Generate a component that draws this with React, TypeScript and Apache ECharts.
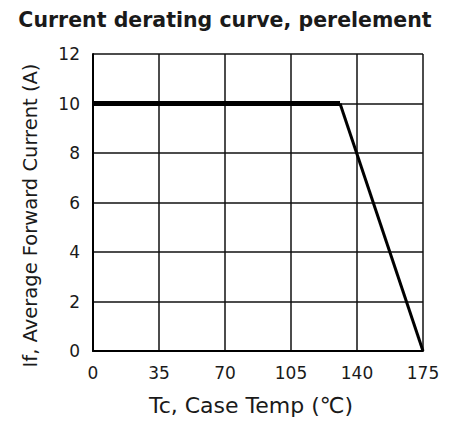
import React, { useEffect, useRef } from "react";
import * as echarts from "echarts";

const titleText = "Current derating curve, perelement";
const xAxisName = "Tc, Case Temp (℃)";
const yAxisName = "If, Average Forward Current (A)";
const xTicks = [0, 35, 70, 105, 140, 175];
const yTicks = [0, 2, 4, 6, 8, 10, 12];
const flatSegment: [number, number][] = [
  [0, 10],
  [131, 10],
];
const slopeSegment: [number, number][] = [
  [131, 10],
  [175, 0],
];

export default function App() {
  const ref = useRef<HTMLDivElement>(null);
  useEffect(() => {
    if (!ref.current) return;
    const chart = echarts.init(ref.current, undefined, { renderer: "svg" });
    const font = "DejaVu Sans";
    chart.setOption({
      animation: false,
      backgroundColor: "#ffffff",
      title: {
        text: titleText,
        left: "center",
        top: 4,
        textStyle: { fontFamily: font, fontWeight: "bold", fontSize: 20.5, color: "#1a1a1a" },
      },
      grid: { left: 93, right: 27, top: 54, bottom: 76 },
      xAxis: {
        type: "value",
        min: xTicks[0],
        max: xTicks[xTicks.length - 1],
        interval: 35,
        name: xAxisName,
        nameLocation: "middle",
        nameGap: 43,
        nameTextStyle: { fontFamily: font, fontSize: 22, color: "#1a1a1a", padding: [0, 14, 0, 0] },
        axisLine: { show: true, lineStyle: { color: "#000", width: 2 } },
        axisTick: { show: false },
        axisLabel: { margin: 13, fontFamily: font, fontSize: 17, color: "#1a1a1a" },
        splitLine: { show: true, lineStyle: { color: "#111", width: 1.5 } },
      },
      yAxis: {
        type: "value",
        min: yTicks[0],
        max: yTicks[yTicks.length - 1],
        interval: 2,
        name: yAxisName,
        nameLocation: "middle",
        nameRotate: 90,
        nameGap: 53,
        nameTextStyle: { fontFamily: font, fontSize: 19.5, color: "#1a1a1a", padding: [0, 26, 0, 0] },
        axisLine: { show: true, lineStyle: { color: "#000", width: 2 } },
        axisTick: { show: false },
        axisLabel: { margin: 13, fontFamily: font, fontSize: 17, color: "#1a1a1a" },
        splitLine: { show: true, lineStyle: { color: "#111", width: 1.5 } },
      },
      series: [
        {
          type: "line",
          data: flatSegment,
          symbol: "none",
          lineStyle: { color: "#000", width: 5 },
          z: 5,
        },
        {
          type: "line",
          data: slopeSegment,
          symbol: "none",
          lineStyle: { color: "#000", width: 3 },
          z: 5,
        },
      ],
    });
    return () => chart.dispose();
  }, []);
  return (
    <div
      ref={ref}
      style={{ position: "fixed", left: 0, top: 0, width: 450, height: 427 }}
    />
  );
}
